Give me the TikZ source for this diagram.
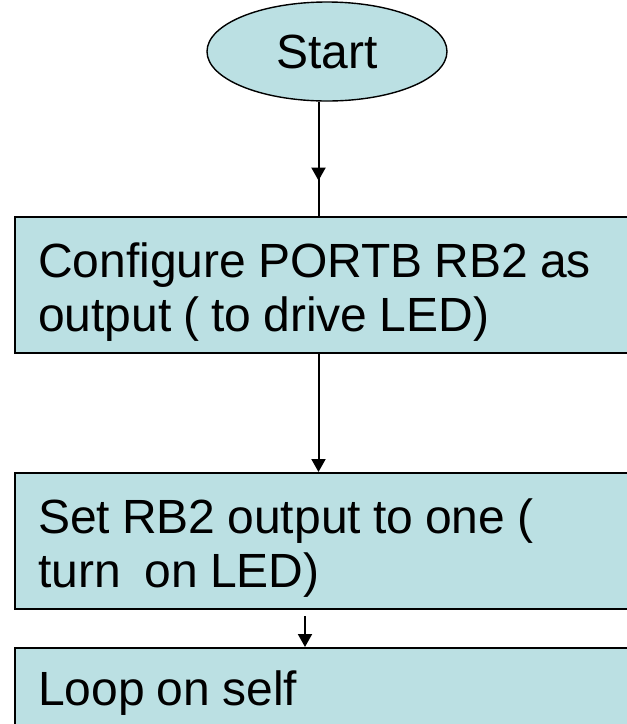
\documentclass[tikz,border=0pt]{standalone}
\usepackage{fontspec}
\setmainfont{Liberation Sans}[WordSpace=0.9]
\usetikzlibrary{arrows.meta,decorations.markings,shapes.geometric}
\definecolor{boxfill}{RGB}{187,224,227}
\tikzset{
  startnode/.style={ellipse, draw, line width=1.4pt, fill=boxfill,
    minimum width=240pt, minimum height=99pt, inner sep=0pt,
    font=\fontsize{48}{54}\selectfont},
  procbox/.style={rectangle, draw, line width=2pt, fill=boxfill,
    anchor=north west, minimum width=660pt, inner sep=0pt},
  boxtext/.style={anchor=west, inner sep=0pt, align=left,
    font=\fontsize{48}{54}\selectfont},
  flow/.style={line width=2pt},
  headtip/.style={-{Triangle[width=14pt,length=13pt]}},
  midhead/.style={postaction={decorate}, decoration={markings,
    mark=at position #1 with {\arrow{Triangle[width=14pt,length=13pt]}}}}
}
\begin{document}
\begin{tikzpicture}[x=1pt,y=-1pt]
  \useasboundingbox (0,0) rectangle (627,724);
  \clip (0,0) rectangle (627,724);
  \fill[white] (0,0) rectangle (627,724);

  % flow chart shapes
  \node[startnode] (start) at (327,51.5) {Start};
  \node[procbox, minimum height=136pt] (cfg) at (14,216) {};
  \node[procbox, minimum height=136pt] (set) at (14,472) {};
  \node[procbox, minimum height=100pt] (loop) at (14,647) {};

  % box texts
  \node[boxtext] (cfgtext) at ([xshift=24pt,yshift=-7pt]cfg.west)
    {Configure PORTB RB2 as\\output ( to drive LED)};
  \node[boxtext] (settext) at ([xshift=24pt,yshift=-7pt]set.west)
    {Set RB2 output to one (\\turn\ \ on LED)};
  \node[boxtext] (looptext) at ([xshift=24pt,yshift=-46pt]loop.north west)
    {Loop on self};

  % connector columns
  \coordinate (colA) at (318.5,0);
  \coordinate (colB) at (305,616);

  % connectors
  \draw[flow, midhead=0.69] (colA |- start.south) -- (colA |- cfg.north);
  \draw[flow, headtip] (colA |- cfg.south) -- (colA |- set.north);
  \draw[flow, headtip] (colB) -- (colB |- loop.north);
\end{tikzpicture}
\end{document}
